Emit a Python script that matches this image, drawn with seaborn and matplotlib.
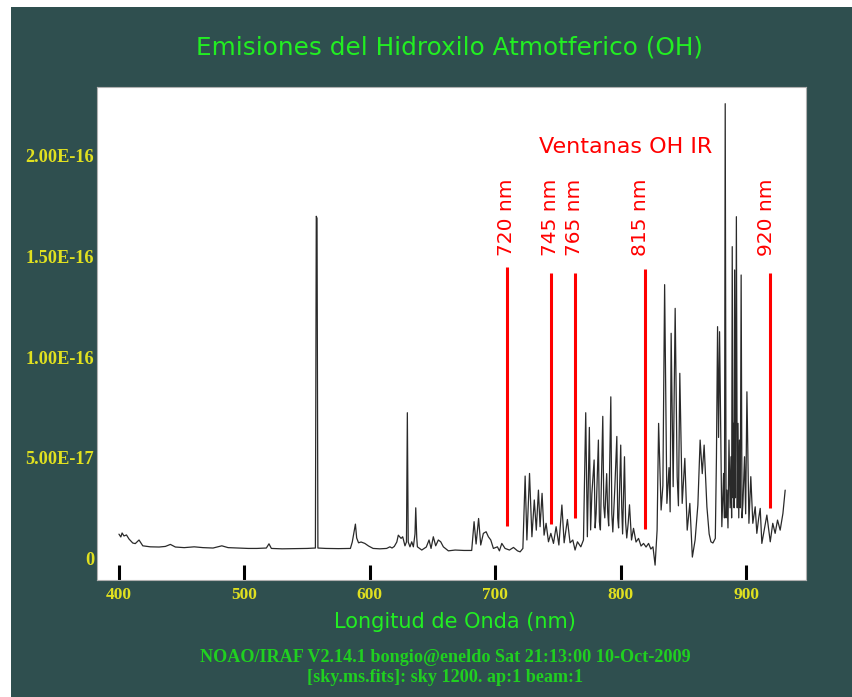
import numpy as np
import pandas as pd
import matplotlib
matplotlib.use("Agg")
import matplotlib.pyplot as plt
import seaborn as sns
from matplotlib.patches import Rectangle

# spectrum: wavelength (nm) and flux (units of 1e-17)
wavelength = [
    400.0, 401.5, 402.5, 404.0, 406.0, 408.0, 411.0, 413.0, 416.0, 419.0,
    425.0, 432.0, 437.0, 441.0, 445.0, 452.0, 460.0, 467.0, 475.0, 482.0,
    487.0, 495.0, 503.0, 510.0, 517.5, 519.6, 521.5, 530.0, 540.0, 550.0,
    556.6, 557.3, 557.9, 558.6, 565.0, 575.0, 584.5, 586.0, 588.5, 589.5,
    591.0, 593.0, 596.0, 599.0, 602.6, 608.0, 613.4, 616.0, 617.7, 619.5,
    621.5, 622.7, 624.9, 626.2, 628.0, 629.2, 629.9, 630.6, 632.0, 633.4,
    634.7, 636.0, 636.6, 637.4, 637.9, 641.4, 645.0, 647.2, 648.8, 650.6,
    652.5, 654.6, 656.5, 658.6, 662.6, 668.0, 675.0, 681.2, 683.1, 684.7,
    686.7, 688.4, 690.5, 692.7, 694.5, 696.4, 698.5, 701.7, 703.3, 705.2,
    707.8, 711.3, 714.5, 717.7, 719.8, 722.0, 723.8, 725.2, 727.3, 729.2,
    731.1, 732.7, 734.4, 735.7, 737.3, 738.9, 740.5, 742.4, 744.3, 746.4,
    748.5, 750.7, 753.1, 754.9, 757.5, 759.6, 761.8, 763.6, 765.5, 768.2,
    770.3, 772.1, 773.4, 775.0, 776.0, 777.0, 778.8, 779.6, 780.4, 782.2,
    783.0, 783.8, 785.7, 786.5, 787.3, 788.8, 789.6, 790.4, 792.1, 792.9,
    793.7, 795.3, 796.9, 797.6, 798.3, 800.0, 800.8, 801.5, 803.0, 803.9,
    804.8, 805.9, 807.0, 808.6, 810.2, 812.2, 814.2, 816.2, 818.2, 820.2,
    822.2, 824.0, 825.7, 827.4, 829.0, 830.2, 832.2, 833.6, 835.0, 836.8,
    838.5, 839.4, 840.2, 841.8, 843.4, 845.0, 846.0, 847.1, 849.0, 851.1,
    853.0, 855.1, 857.1, 859.3, 861.5, 863.3, 865.0, 866.5, 868.7, 870.5,
    871.9, 873.5, 875.4, 876.3, 877.2, 878.0, 878.8, 880.6, 882.0, 882.7,
    883.3, 884.0, 884.7, 885.5, 886.3, 887.2, 887.9, 888.4, 888.9, 889.5,
    890.0, 890.4, 890.8, 891.5, 892.2, 892.9, 893.5, 894.1, 894.7, 895.3,
    896.0, 896.7, 897.4, 898.7, 899.6, 900.6, 902.2, 903.7, 905.3, 907.2,
    908.5, 910.0, 911.2, 912.5, 914.4, 916.5, 919.2, 921.2, 923.1, 925.0,
    927.1, 929.3, 931.1,
]
flux_e17 = [
    1.19, 1.05, 1.25, 1.10, 1.15, 0.95, 0.75, 0.72, 0.90, 0.61,
    0.56, 0.55, 0.58, 0.68, 0.55, 0.52, 0.56, 0.52, 0.50, 0.61,
    0.52, 0.50, 0.48, 0.48, 0.50, 0.71, 0.48, 0.46, 0.47, 0.48,
    0.50, 17.0, 16.9, 0.50, 0.48, 0.47, 0.48, 0.80, 1.69, 1.00,
    0.76, 0.80, 0.73, 0.60, 0.48, 0.46, 0.48, 0.56, 0.50, 0.58,
    0.80, 1.14, 0.98, 1.06, 0.61, 0.80, 7.23, 0.80, 0.56, 0.81,
    0.56, 1.20, 2.50, 1.00, 0.56, 0.40, 0.55, 0.90, 0.48, 1.06,
    0.61, 0.90, 0.81, 0.56, 0.36, 0.40, 0.38, 0.38, 1.81, 0.70,
    1.97, 0.65, 1.23, 1.31, 1.06, 0.90, 0.48, 0.56, 0.36, 0.73,
    0.48, 0.40, 0.53, 0.36, 0.31, 0.48, 4.08, 0.90, 4.21, 1.06,
    2.89, 1.39, 3.38, 1.56, 3.22, 1.14, 1.73, 0.81, 1.23, 0.73,
    1.56, 0.65, 2.64, 0.76, 1.92, 0.76, 0.90, 0.40, 0.81, 0.56,
    0.90, 7.23, 1.06, 6.50, 1.40, 3.20, 4.88, 1.50, 2.22, 5.87,
    1.80, 1.40, 7.05, 2.60, 2.00, 4.20, 2.30, 1.60, 8.02, 2.20,
    1.30, 3.50, 6.05, 2.00, 1.50, 5.62, 2.50, 1.20, 5.04, 1.80,
    1.00, 1.70, 2.65, 0.90, 1.48, 0.80, 0.98, 0.60, 0.73, 0.55,
    0.73, 0.45, 0.56, -0.35, 1.39, 6.70, 2.39, 3.60, 13.6, 2.72,
    4.50, 2.30, 11.18, 3.55, 12.42, 4.05, 2.60, 9.19, 2.72, 4.96,
    1.39, 2.72, 0.05, 0.90, 2.64, 5.87, 4.20, 5.62, 2.55, 1.20,
    0.81, 0.75, 0.98, 5.00, 11.51, 6.00, 11.26, 1.56, 4.21, 2.00,
    22.6, 2.00, 3.38, 1.50, 5.87, 2.50, 5.04, 2.00, 15.49, 3.00,
    6.70, 2.50, 14.33, 3.00, 16.98, 2.50, 6.70, 2.00, 5.87, 2.50,
    14.08, 2.00, 2.72, 5.04, 2.20, 8.27, 1.73, 4.05, 1.73, 2.55,
    1.23, 2.00, 2.47, 0.73, 1.39, 2.14, 0.81, 1.73, 1.23, 1.89,
    1.39, 2.22, 3.38,
]

# OH IR windows (red markers)
window_pos = [709.6, 744.2, 763.3, 819.1, 919.1]
window_bottom = [1.6, 1.7, 2.0, 1.45, 2.5]
window_top = [14.5, 14.2, 14.2, 14.4, 14.2]
window_labels = ["720 nm", "745 nm", "765 nm", "815 nm", "920 nm"]
label_pos = [709.1, 743.7, 762.8, 816.0, 916.0]

x_ticks = [400, 500, 600, 700, 800, 900]
y_ticks = [0, 5e-17, 1e-16, 1.5e-16, 2e-16]
y_ticklabels = ["0", "5.00E-17", "1.00E-16", "1.50E-16", "2.00E-16"]

BG = "#2f4f4f"
YELLOW = "#e0e020"
GREEN = "#22ee22"
FOOT_GREEN = "#20d020"
RED = "#ff0000"

sns.set_style("white")

df = pd.DataFrame({"wl": wavelength, "flux": np.array(flux_e17) * 1e-17})

fig = plt.figure(figsize=(8.52, 6.97), dpi=100, facecolor="white")
# dark panel, leaves a thin white strip at top and left like the original
fig.add_artist(Rectangle((11 / 852, 0), 1, 1 - 7 / 697, transform=fig.transFigure,
                         facecolor=BG, edgecolor="none", zorder=-10))

ax = fig.add_axes([97 / 852, 117 / 697, 709 / 852, 493 / 697])
ax.set_facecolor("white")

sns.lineplot(data=df, x="wl", y="flux", ax=ax, sort=False, estimator=None,
             color="#2a2a2a", linewidth=0.9)

# red window lines
ax.vlines(window_pos, np.array(window_bottom) * 1e-17, np.array(window_top) * 1e-17,
          color=RED, linewidth=2.2)
for xp, lab in zip(label_pos, window_labels):
    ax.text(xp, 15.0e-17, lab, rotation=90, ha="center", va="bottom",
            color=RED, fontsize=14.5, family="DejaVu Sans")
ax.text(803.9, 20.45e-17, "Ventanas OH IR", ha="center", va="center",
        color=RED, fontsize=16, family="DejaVu Sans")

ax.set_xlim(382.5, 947.7)
ax.set_ylim(-1.09e-17, 23.43e-17)
ax.set_xticks(x_ticks)
ax.set_xticklabels([str(t) for t in x_ticks])
ax.set_yticks(y_ticks)
ax.set_yticklabels(y_ticklabels)
ax.set_xlabel("")
ax.set_ylabel("")

ax.tick_params(axis="x", direction="in", length=11, width=2.2, color="black",
               pad=5, labelcolor=YELLOW, bottom=True)
ax.tick_params(axis="y", length=0, pad=2, labelcolor=YELLOW, left=True)
for lab in ax.get_xticklabels():
    lab.set_family("Liberation Serif")
    lab.set_fontweight("bold")
    lab.set_fontsize(12.5)
for lab in ax.get_yticklabels():
    lab.set_family("Liberation Serif")
    lab.set_fontweight("bold")
    lab.set_fontsize(13.2)

for sp in ax.spines.values():
    sp.set_color("#b0b0b0")
    sp.set_linewidth(0.8)

fig.text(450 / 852, 1 - 47 / 697, "Emisiones del Hidroxilo Atmotferico (OH)",
         ha="center", va="center", color=GREEN, fontsize=17.8, family="DejaVu Sans")
fig.text(455 / 852, 1 - 622 / 697, "Longitud de Onda (nm)",
         ha="center", va="center", color=GREEN, fontsize=15, family="DejaVu Sans")
fig.text(445 / 852, 1 - 658 / 697,
         "NOAO/IRAF V2.14.1 bongio@eneldo Sat 21:13:00 10-Oct-2009",
         ha="center", va="center", color=FOOT_GREEN, fontsize=13.1,
         family="Liberation Serif", fontweight="bold")
fig.text(445 / 852, 1 - 677 / 697, "[sky.ms.fits]: sky 1200. ap:1 beam:1",
         ha="center", va="center", color=FOOT_GREEN, fontsize=13.1,
         family="Liberation Serif", fontweight="bold")

fig.savefig("out.png", dpi=100, facecolor=fig.get_facecolor())
